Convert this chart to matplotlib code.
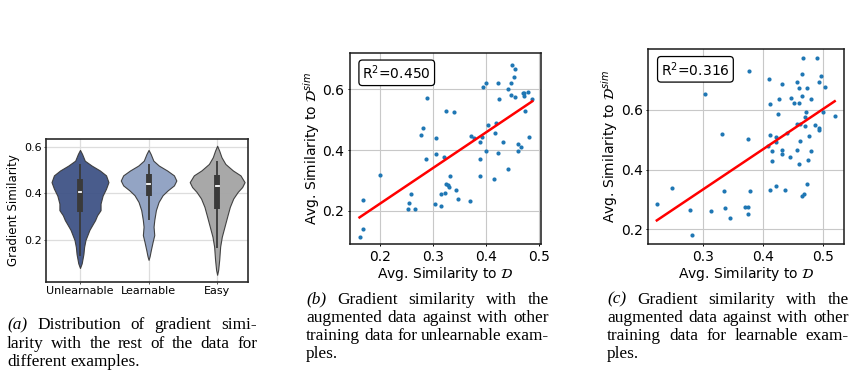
#!/usr/bin/env python3

# Gradient similarity: violin plot + two scatter panels with captions

import numpy as np
from matplotlib import pyplot as plt
from matplotlib.transforms import IdentityTransform
import matplotlib

params = {
    'font.family': 'DejaVu Sans',
    'mathtext.fontset': 'dejavusans',
    'figure.dpi': 100,
}
matplotlib.rcParams.update(params)

W, H = 855, 374

# ---------------- data ----------------
groups = ["Unlearnable", "Learnable", "Easy"]
group_colors = ["#3f5386", "#8d9fc1", "#a4a4a4"]

# violin outline: value levels and half-widths
unl_levels = [0.08, 0.10, 0.14, 0.17, 0.20, 0.243, 0.27, 0.285, 0.306, 0.328,
              0.356, 0.39, 0.42, 0.448, 0.477, 0.498, 0.519, 0.54, 0.569, 0.586]
unl_width = [0.0, 0.025, 0.05, 0.06, 0.08, 0.137, 0.19, 0.22, 0.25, 0.30,
             0.30, 0.33, 0.38, 0.415, 0.38, 0.29, 0.17, 0.07, 0.03, 0.0]
lrn_levels = [0.115, 0.13, 0.158, 0.193, 0.221, 0.257, 0.285, 0.328, 0.363, 0.392,
              0.413, 0.434, 0.455, 0.477, 0.498, 0.519, 0.54, 0.569, 0.586]
lrn_width = [0.0, 0.015, 0.034, 0.06, 0.083, 0.073, 0.083, 0.107, 0.146, 0.205,
             0.28, 0.37, 0.405, 0.37, 0.27, 0.15, 0.07, 0.03, 0.0]
easy_levels = [0.051, 0.072, 0.115, 0.172, 0.214, 0.257, 0.30, 0.342, 0.378, 0.406,
               0.427, 0.448, 0.477, 0.498, 0.526, 0.555, 0.583, 0.604]
easy_width = [0.0, 0.015, 0.03, 0.044, 0.068, 0.107, 0.146, 0.185, 0.235, 0.30,
              0.365, 0.40, 0.34, 0.23, 0.12, 0.063, 0.03, 0.0]

# q1, median, q3, whisker low, whisker high
box_stats = [
    [0.320, 0.405, 0.462, 0.13, 0.526],
    [0.387, 0.441, 0.484, 0.285, 0.526],
    [0.335, 0.431, 0.477, 0.165, 0.538],
]

# panel (b): unlearnable examples
b_x = [0.161, 0.167, 0.168, 0.199, 0.254, 0.253, 0.258, 0.266, 0.278, 0.281,
       0.289, 0.287, 0.299, 0.306, 0.306, 0.303, 0.315, 0.315, 0.320, 0.322,
       0.325, 0.325, 0.328, 0.330, 0.332, 0.339, 0.343, 0.347, 0.371, 0.373,
       0.378, 0.393, 0.390, 0.390, 0.390, 0.395, 0.400, 0.401, 0.404, 0.416,
       0.418, 0.420, 0.424, 0.426, 0.424, 0.433, 0.442, 0.442, 0.447, 0.448,
       0.449, 0.454, 0.456, 0.456, 0.461, 0.461, 0.466, 0.471, 0.473, 0.472,
       0.474, 0.480, 0.481, 0.488]
b_y = [0.114, 0.140, 0.235, 0.318, 0.224, 0.205, 0.254, 0.205, 0.451, 0.474,
       0.573, 0.369, 0.620, 0.441, 0.386, 0.221, 0.215, 0.256, 0.376, 0.257,
       0.530, 0.288, 0.285, 0.279, 0.314, 0.525, 0.268, 0.240, 0.231, 0.447,
       0.441, 0.442, 0.427, 0.370, 0.314, 0.609, 0.622, 0.398, 0.481, 0.305,
       0.456, 0.490, 0.622, 0.569, 0.390, 0.425, 0.338, 0.600, 0.620, 0.581,
       0.680, 0.642, 0.668, 0.576, 0.420, 0.398, 0.409, 0.589, 0.589, 0.578,
       0.530, 0.592, 0.444, 0.568]
b_r2 = "0.450"

# panel (c): learnable examples
c_x = [0.223, 0.249, 0.278, 0.281, 0.303, 0.313, 0.332, 0.335, 0.336, 0.344,
       0.369, 0.374, 0.374, 0.376, 0.374, 0.378, 0.409, 0.411, 0.408, 0.411,
       0.412, 0.414, 0.415, 0.421, 0.422, 0.424, 0.422, 0.427, 0.431, 0.431,
       0.432, 0.437, 0.439, 0.444, 0.446, 0.451, 0.457, 0.456, 0.457, 0.459,
       0.459, 0.459, 0.461, 0.461, 0.464, 0.465, 0.465, 0.467, 0.468, 0.469,
       0.469, 0.472, 0.473, 0.473, 0.475, 0.477, 0.479, 0.479, 0.486, 0.490,
       0.493, 0.493, 0.493, 0.497, 0.500, 0.503, 0.519]
c_y = [0.284, 0.339, 0.266, 0.181, 0.654, 0.263, 0.518, 0.327, 0.270, 0.237,
       0.275, 0.276, 0.252, 0.731, 0.504, 0.330, 0.705, 0.620, 0.479, 0.332,
       0.516, 0.461, 0.430, 0.491, 0.510, 0.587, 0.346, 0.637, 0.465, 0.454,
       0.688, 0.332, 0.524, 0.441, 0.641, 0.622, 0.695, 0.466, 0.553, 0.673,
       0.624, 0.418, 0.554, 0.497, 0.312, 0.720, 0.647, 0.773, 0.317, 0.575,
       0.546, 0.593, 0.675, 0.352, 0.432, 0.512, 0.637, 0.463, 0.550, 0.773,
       0.693, 0.540, 0.533, 0.712, 0.593, 0.677, 0.578]
c_r2 = "0.316"

captions = {
    "a": (["(a)", "Distribution of gradient simi-"],
          ["larity with the rest of the data for"],
          ["different examples."]),
    "b": (["(b)", "Gradient similarity with the"],
          ["augmented data against with other"],
          ["training data for unlearnable exam-"],
          ["ples."]),
    "c": (["(c)", "Gradient similarity with the"],
          ["augmented data against with other"],
          ["training data for learnable exam-"],
          ["ples."]),
}


def px_axes(fig, left, top, right, bottom):
    return fig.add_axes([left / W, 1 - bottom / H, (right - left) / W, (bottom - top) / H])


fig = plt.figure(figsize=(W / 100, H / 100), dpi=100)

# ---------------- (a) violins ----------------
ax = px_axes(fig, 45.7, 138.5, 248, 282)
profiles = [(unl_levels, unl_width), (lrn_levels, lrn_width), (easy_levels, easy_width)]
for i, (lv, wd) in enumerate(profiles):
    lv = np.array(lv)
    wd = np.array(wd)
    ax.fill_betweenx(lv, i - wd, i + wd, facecolor=group_colors[i],
                     edgecolor="#3a3a3a", linewidth=0.8, alpha=0.95, zorder=2)
    q1, med, q3, wlo, whi = box_stats[i]
    ax.plot([i, i], [wlo, whi], color="#3a3a3a", lw=1.3, zorder=3, solid_capstyle="butt")
    ax.plot([i, i], [q1, q3], color="#3a3a3a", lw=4.2, zorder=3, solid_capstyle="butt")
    ax.plot([i - 0.02, i + 0.02], [med, med], color="white", lw=1.3, zorder=4)

ax.set_xlim(-0.5, 2.45)
ax.set_ylim(0.02, 0.635)
ax.set_xticks(range(len(groups)))
ax.set_xticklabels(groups, fontsize=8)
ax.set_yticks([0.2, 0.4, 0.6])
ax.set_yticklabels(["0.2", "0.4", "0.6"], fontsize=8)
ax.set_ylabel("Gradient Similarity", fontsize=8.5, labelpad=3)
ax.tick_params(length=1.5, width=0.6, pad=1.5, color="#333333")
ax.grid(True, color="#dddddd", lw=0.9)
ax.set_axisbelow(True)
for s in ax.spines.values():
    s.set_color("#2a2a2a")
    s.set_linewidth(1.2)


# ---------------- (b), (c) scatters ----------------
def scatter_panel(ax, xs, ys, r2):
    xs = np.array(xs)
    ys = np.array(ys)
    ax.scatter(xs, ys, s=9, color="#1f77b4", zorder=3, linewidths=0)
    k, c = np.polyfit(xs, ys, 1)
    xl = np.array([xs.min(), xs.max()])
    ax.plot(xl, k * xl + c, color="red", lw=1.8, zorder=4)
    ax.grid(True, color="#c8c8c8", lw=0.8)
    ax.set_axisbelow(True)
    ax.tick_params(labelsize=10, length=1.5, width=0.7, pad=2.5)
    ax.set_xlabel(r"Avg. Similarity to $\mathcal{D}$", fontsize=10, labelpad=1)
    ax.set_ylabel(r"Avg. Similarity to $\mathcal{D}^{sim}$", fontsize=10, labelpad=0.5)
    ax.text(0.065, 0.945, r"R$^2$=" + r2, transform=ax.transAxes, fontsize=10,
            va="top", ha="left",
            bbox=dict(boxstyle="round,pad=0.25", facecolor="white", edgecolor="black", lw=0.9))
    for s in ax.spines.values():
        s.set_color("#1a1a1a")
        s.set_linewidth(1.1)


axb = px_axes(fig, 350, 53, 540.7, 244)
scatter_panel(axb, b_x, b_y, b_r2)
axb.set_xlim(0.143, 0.504)
axb.set_ylim(0.09, 0.72)
axb.set_xticks([0.2, 0.3, 0.4, 0.5])
axb.set_yticks([0.2, 0.4, 0.6])

axc = px_axes(fig, 648.3, 49.3, 844, 244)
scatter_panel(axc, c_x, c_y, c_r2)
axc.set_xlim(0.2088, 0.5345)
axc.set_ylim(0.151, 0.803)
axc.set_xticks([0.3, 0.4, 0.5])
axc.set_yticks([0.2, 0.4, 0.6])

# ---------------- captions (justified lines) ----------------
renderer = fig.canvas.get_renderer()
cap_font = dict(family="Liberation Serif", fontsize=12.4, color="black")


def caption_line(parts, x0, x1, ybase, justify):
    words = []
    for j, part in enumerate(parts):
        style = "italic" if (j == 0 and part.startswith("(") and len(parts) > 1) else "normal"
        for w in part.split(" "):
            words.append((w, style))
    texts = [fig.text(0, 0, w, transform=IdentityTransform(), va="baseline", ha="left",
                      style=st, **cap_font) for w, st in words]
    widths = [t.get_window_extent(renderer).width for t in texts]
    natural = cap_font["fontsize"] * 100 / 72 * 0.25
    if justify and len(texts) > 1:
        gap = (x1 - x0 - sum(widths)) / (len(texts) - 1)
    else:
        gap = natural
    x = x0
    for t, w in zip(texts, widths):
        t.set_position((x, H - ybase))
        x += w + gap


cap_layout = {
    "a": (7, 257, [329.3, 347.6, 365.5]),
    "b": (306, 549, [303.5, 321.7, 340.0, 358.2]),
    "c": (607, 849, [303.5, 321.7, 340.0, 358.2]),
}
for key, lines in captions.items():
    x0, x1, ys = cap_layout[key]
    for n, (parts, yb) in enumerate(zip(lines, ys)):
        caption_line(parts, x0, x1, yb, justify=(n < len(lines) - 1))

plt.savefig("out.png", dpi=100)
